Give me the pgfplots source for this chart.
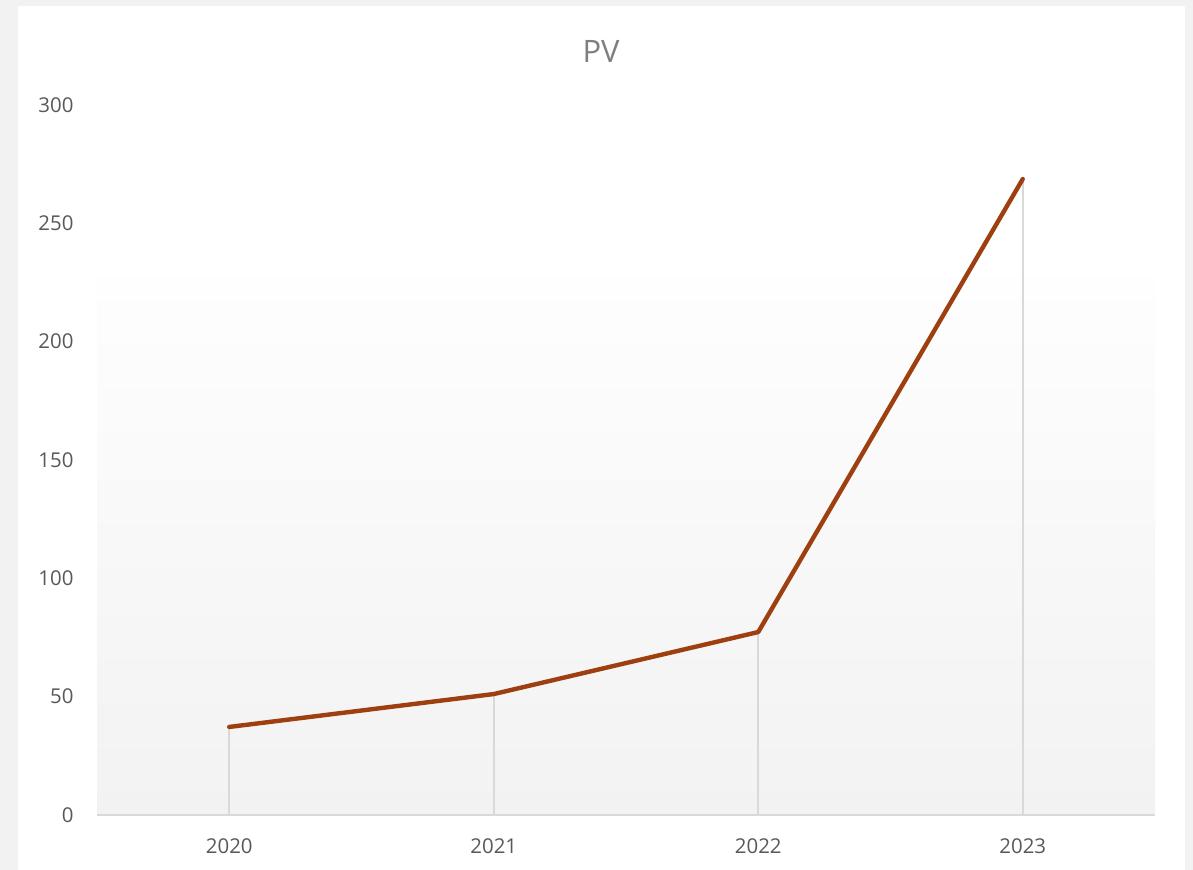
\documentclass[border=0pt]{standalone}
\usepackage{fontspec}
\setmainfont{Open Sans}
\usepackage{pgfplots}
\pgfplotsset{compat=1.18}
\definecolor{pvline}{RGB}{158,63,16}
\definecolor{tickgray}{RGB}{89,89,89}
\definecolor{titlegray}{RGB}{127,127,127}
\definecolor{axisgray}{RGB}{217,217,217}
\definecolor{outergray}{RGB}{242,242,242}
\definecolor{shadetop}{RGB}{254,254,254}
\begin{document}
\begin{tikzpicture}
\fill[outergray] (-97bp,-55bp) rectangle (1096bp,815bp);
\fill[white] (-79bp,-55bp) rectangle (1088bp,809bp);
\shade[top color=shadetop, bottom color=outergray] (0,0) rectangle (1058bp,538bp);
\node[text=titlegray, font=\fontsize{31}{36}\selectfont] at (504bp,764bp) {PV};
\begin{axis}[
  at={(0,0)}, anchor=south west,
  scale only axis,
  width=1058bp, height=710bp,
  xmin=-0.5, xmax=3.5, ymin=0, ymax=300,
  xtick={0,1,2,3},
  xticklabels={2020,2021,2022,2023},
  ytick={0,50,100,150,200,250,300},
  axis x line*=bottom,
  axis y line=none,
  x axis line style={axisgray, line width=1.5bp, -},
  major tick length=0pt,
  /pgf/number format/assume math mode=true,
  ticklabel style={text=tickgray, font=\fontsize{20.5}{24}\selectfont},
  xticklabel style={yshift=-20bp},
  clip=false,
]
\addplot[ycomb, axisgray, line width=1.6bp, no marks] coordinates {(0,37.2) (1,51.1) (2,77.3) (3,268.7)};
\addplot[pvline, line width=4.4bp, no marks, line join=round, line cap=round] coordinates {(0,37.2) (1,51.1) (2,77.3) (3,268.7)};
\end{axis}
\begin{axis}[
  at={(0,0)}, anchor=south west,
  scale only axis,
  width=1058bp, height=710bp,
  xmin=-0.5, xmax=3.5, ymin=0, ymax=300,
  ytick={0,50,100,150,200,250,300},
  xtick=\empty,
  axis x line=none,
  axis y line*=left,
  y axis line style={draw=none},
  major tick length=0pt,
  /pgf/number format/assume math mode=true,
  yticklabel style={text=tickgray, font=\fontsize{20.5}{24}\selectfont, xshift=-20bp},
]
\end{axis}
\end{tikzpicture}
\end{document}
